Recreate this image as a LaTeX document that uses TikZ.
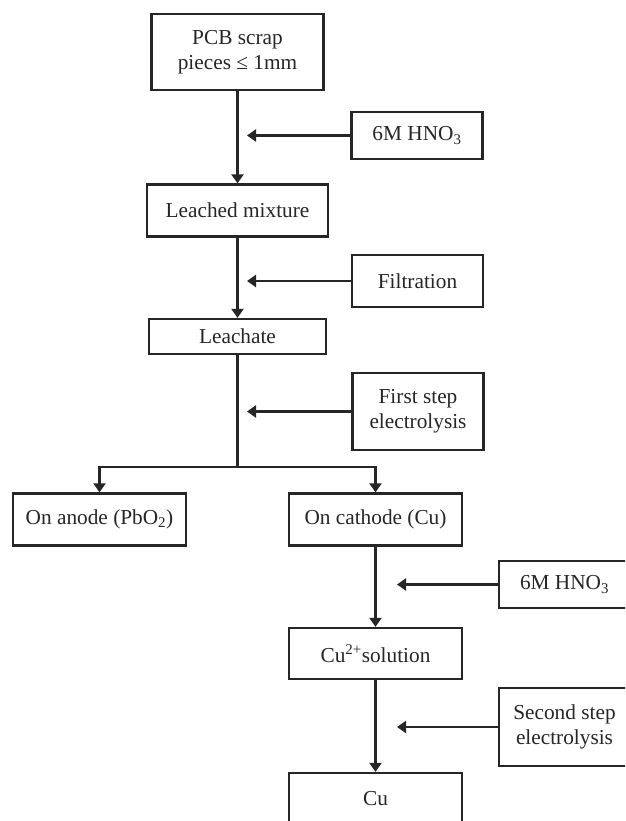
\documentclass[tikz,border=0pt]{standalone}
\usepackage{fontspec}
\setmainfont{Liberation Serif}
\usetikzlibrary{arrows.meta}

\begin{document}
\begin{tikzpicture}[
	x=1pt, y=-1pt,
	box/.style={
		draw=black!85, line width=2.3pt, rectangle,
		minimum width=173pt, minimum height=52pt,
		font=\fontsize{21.3}{25}\selectfont, align=center, inner sep=2pt,
		text=black!85
	},
	side/.style={box, minimum width=131pt},
	edge/.style={-{Triangle[length=9pt, width=12pt]}, line width=2.3pt, draw=black!85},
	]

	\clip (0,0) rectangle (625,821);
	\fill[white] (0,0) rectangle (625,821);

	\node[box, minimum width=172pt, minimum height=76pt] (scrap) at (237.5,52) {PCB scrap\\pieces ≤ 1mm};
	\node[side, minimum height=47pt] (acid1)    at (417,135.5)   {6M HNO\textsubscript{3}};
	\node[box, minimum width=181pt] (mixture)   at (237.5,210.5) {Leached mixture};
	\node[side] (filtr)                         at (417.5,281)   {Filtration};
	\node[box, minimum width=177pt, minimum height=35pt] (leachate) at (237.5,336.5) {Leachate};
	\node[side, minimum height=77pt] (step1)    at (418,411.5)   {First step\\electrolysis};
	\node[box] (anode)                          at (99.5,519.5)  {On anode (PbO\textsubscript{2})};
	\node[box] (cathode)                        at (375.5,519.5) {On cathode (Cu)};
	\node[side, minimum height=47pt] (acid2)    at (564.5,584.5) {6M HNO\textsubscript{3}};
	\node[box, minimum height=51pt] (cusol)     at (375.5,653.5) {Cu\textsuperscript{2+}solution};
	\node[side, minimum height=78pt] (step2)    at (564.5,727)   {Second step\\electrolysis};
	\node[box] (cu)                             at (375.5,799)   {Cu};

	% main column
	\draw[edge] (scrap.south)   -- (mixture.north);
	\draw[edge] (mixture.south) -- (leachate.north);
	\draw[edge] (cathode.south) -- (cusol.north);
	\draw[edge] (cusol.south)   -- (cu.north);

	% reagents fed in from the right
	\coordinate (in1) at (247,135.5);
	\coordinate (in2) at (247,281);
	\coordinate (in3) at (247,411.5);
	\coordinate (in4) at (397,584.5);
	\coordinate (in5) at (397,727);
	\draw[edge] (acid1.west) -- (in1);
	\draw[edge] (filtr.west) -- (in2);
	\draw[edge] (step1.west) -- (in3);
	\draw[edge] (acid2.west) -- (in4);
	\draw[edge] (step2.west) -- (in5);

	% split after first step electrolysis
	\coordinate (split) at (237.5,467);
	\draw[line width=2.3pt, draw=black!85] (leachate.south) -- (split);
	\draw[edge] (split) -| (anode.north);
	\draw[edge] (split) -| (cathode.north);

\end{tikzpicture}
\end{document}
